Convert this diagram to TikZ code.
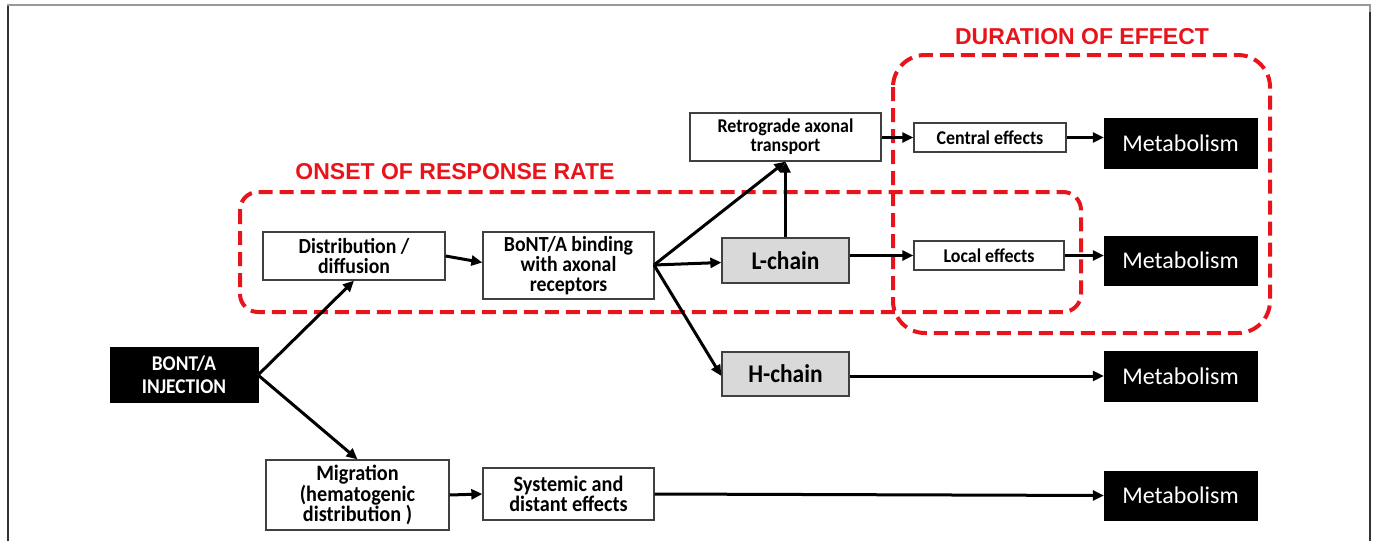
\documentclass[tikz,border=0pt]{standalone}
\usepackage{fontspec}
\setmainfont{Carlito}
\newfontfamily\cf{Carlito}[FakeStretch=0.92]
\newfontfamily\redfont{Liberation Sans}
\usetikzlibrary{arrows.meta}
\definecolor{dashred}{HTML}{E8141B}
\definecolor{boxline}{HTML}{404040}
\definecolor{chaingray}{HTML}{D9D9D9}
\tikzset{
  x=1pt, y=-1pt,
  wbox/.style={draw=boxline, line width=1.3pt, fill=white, align=center, inner sep=0pt},
  bbox/.style={draw=black, fill=black, text=white, align=center, inner sep=0pt},
  gbox/.style={draw=boxline, line width=1.3pt, fill=chaingray, inner sep=0pt, font=\cf\fontsize{25.5}{26}\selectfont\bfseries},
  metbox/.style={bbox, minimum width=153pt, font=\fontsize{24}{24}\selectfont},
  arr/.style={-{Triangle[length=11pt,width=10pt]}, line width=3pt, black},
  region/.style={draw=dashred, line width=4pt, dash pattern=on 14pt off 7pt},
  regiontitle/.style={text=dashred, font=\redfont\fontsize{23}{24}\selectfont\bfseries}
}
\begin{document}
\begin{tikzpicture}
\useasboundingbox (0,0) rectangle (1375,541);
% frame
\draw[gray!80, line width=1.5pt] (8,541) -- (8,5) -- (1370,5) -- (1370,541);
\draw[black!80, line width=1.5pt] (8,541) -- (8,6);
\draw[black!80, line width=1.5pt] (1370,541) -- (1370,12);

% regions
\node[regiontitle] (onsett) at (455,172) {ONSET OF RESPONSE RATE};
\node[regiontitle] (durt) at (1082,37) {DURATION OF EFFECT};
\draw[region, rounded corners=18pt] (240,192) rectangle (1081,312);
\draw[region, rounded corners=32pt] (893,55) rectangle (1270,333);

% nodes
\node[bbox, minimum width=148pt, minimum height=55pt, font=\cf\fontsize{21}{23}\selectfont\bfseries] (inj) at (184,375) {BONT/A\\INJECTION};
\node[wbox, minimum width=182pt, minimum height=48pt, font=\cf\fontsize{21.5}{20}\selectfont\bfseries] (dist) at (354,256) {Distribution /\\diffusion};
\node[wbox, minimum width=171pt, minimum height=67pt, font=\cf\fontsize{21.5}{20}\selectfont\bfseries] (bind) at (568.5,265.5) {BoNT/A binding\\with axonal\\receptors};
\node[wbox, minimum width=191pt, minimum height=48pt, font=\cf\fontsize{19.5}{19}\selectfont\bfseries] (retro) at (785.5,137) {Retrograde axonal\\transport};
\node[gbox, minimum width=127pt, minimum height=45pt] (lch) at (785.5,260.5) {L-chain};
\node[gbox, minimum width=127pt, minimum height=44pt] (hch) at (785.5,374) {H-chain};
\node[wbox, minimum width=152pt, minimum height=29pt, font=\cf\fontsize{19.5}{18}\selectfont\bfseries] (cent) at (990,137.5) {Central effects};
\node[wbox, minimum width=150pt, minimum height=29pt, font=\cf\fontsize{19.5}{18}\selectfont\bfseries] (loc) at (989,255.5) {Local effects};
\node[wbox, minimum width=183pt, minimum height=70pt, font=\cf\fontsize{22}{20.5}\selectfont\bfseries] (mig) at (357.5,495) {Migration\\(hematogenic\\distribution )};
\node[wbox, minimum width=171pt, minimum height=52pt, font=\cf\fontsize{22}{20}\selectfont\bfseries] (sys) at (568.5,494) {Systemic and\\distant effects};
\node[metbox, minimum height=50pt] (met1) at (1180.5,143) {Metabolism};
\node[metbox, minimum height=49pt] (met2) at (1180.5,260.5) {Metabolism};
\node[metbox, minimum height=50pt] (met3) at (1180.5,376) {Metabolism};
\node[metbox, minimum height=49pt] (met4) at (1180.5,495.5) {Metabolism};

% connectors
\coordinate (injout) at (258,375);
\coordinate (bindout) at (654,265);
\draw[arr] (injout) -- (dist.south);
\draw[arr] (injout) -- (mig.north);
\draw[arr] (dist.east) -- ([yshift=3pt]bind.west);
\draw[arr] (bindout) -- (retro.south);
\draw[arr] (bindout) -- ([yshift=-2pt]lch.west);
\draw[arr] (bindout) -- ([yshift=-2pt]hch.west);
\draw[arr] (lch.north) -- (retro.south);
\draw[arr] (retro.east |- cent.west) -- (cent.west);
\draw[arr] (cent.east) -- (met1.west |- cent.east);
\draw[arr] (lch.east |- loc.west) -- (loc.west);
\draw[arr] (loc.east) -- (met2.west |- loc.east);
\draw[arr] ([yshift=-2pt]hch.east) -- (met3.west);
\draw[arr] (mig.east) -- (sys.west);
\draw[arr] (sys.east) -- (met4.west);
\end{tikzpicture}
\end{document}
